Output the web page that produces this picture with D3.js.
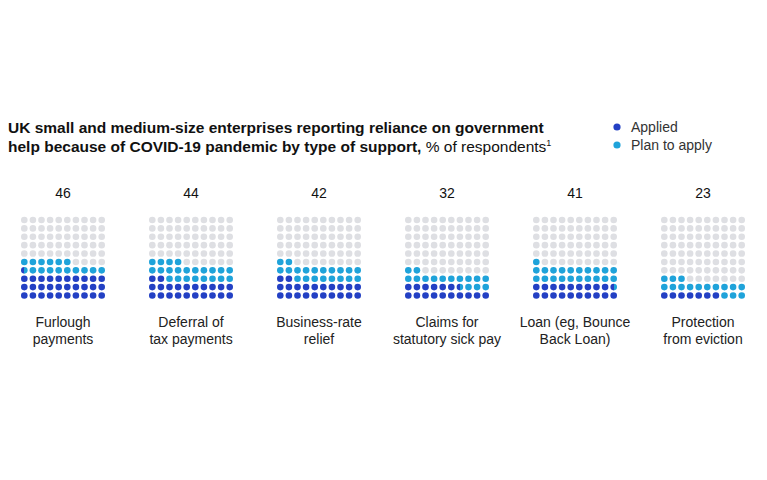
<!DOCTYPE html>
<html>
<head>
<meta charset="utf-8">
<script src="https://cdn.jsdelivr.net/npm/d3@7"></script>
<style>
  body { margin: 0; background: #fff; }
  text { font-family: "Liberation Sans", Arial, sans-serif; fill: #111; }
</style>
</head>
<body>
<svg id="chart" width="767" height="480"></svg>
<script>
// data
var categories = [
  ["Furlough", "payments"],
  ["Deferral of", "tax payments"],
  ["Business-rate", "relief"],
  ["Claims for", "statutory sick pay"],
  ["Loan (eg, Bounce", "Back Loan)"],
  ["Protection", "from eviction"]
];
var totals = [46, 44, 42, 32, 41, 23];
var applied = [30.5, 22, 22, 16.5, 19.5, 7];
var planToApply = [15.5, 22, 20, 15.5, 21.5, 16];
var seriesNames = ["Applied", "Plan to apply"];

var colors = { applied: "#2340c4", plan: "#1fa3da", empty: "#dedfe3" };

var svg = d3.select("#chart");

// title
var title = svg.append("text").attr("x", 8).attr("y", 133)
    .style("font-size", "15.5px").style("font-weight", "bold");
title.append("tspan").text("UK small and medium-size enterprises reporting reliance on government");
var t2 = svg.append("text").attr("x", 8).attr("y", 152)
    .style("font-size", "15.5px").style("font-weight", "bold");
t2.append("tspan").text("help because of COVID-19 pandemic by type of support, ");
t2.append("tspan").style("font-weight", "normal").text("% of respondents");
t2.append("tspan").style("font-weight", "normal").style("font-size", "9px").attr("dy", -6).text("1");

// legend
var legend = svg.append("g").attr("transform", "translate(617,127)");
seriesNames.forEach(function(name, i) {
  var g = legend.append("g").attr("transform", "translate(0," + (i * 18) + ")");
  g.append("circle").attr("r", 3.6).attr("fill", i == 0 ? colors.applied : colors.plan);
  g.append("text").attr("x", 14).attr("dy", "0.35em").style("font-size", "14px").style("fill", "#333").text(name);
});

// grids
var x = d3.scaleBand().domain(d3.range(categories.length)).range([-1, 767]).paddingInner(0);
var col = d3.scaleLinear().domain([0, 9]).range([-38.7, 38.7]);
var row = d3.scaleLinear().domain([0, 9]).range([295.5, 220]);
var r = 3.3;

var defs = svg.append("defs");
var grad = defs.append("linearGradient").attr("id", "half");
grad.append("stop").attr("offset", "50%").attr("stop-color", colors.applied);
grad.append("stop").attr("offset", "50%").attr("stop-color", colors.plan);

var groups = svg.selectAll(".grid").data(categories).enter().append("g")
    .attr("class", "grid")
    .attr("transform", function(d, i) { return "translate(" + (x(i) + x.bandwidth() / 2) + ",0)"; });

groups.each(function(d, k) {
  var g = d3.select(this);
  var dots = d3.range(100);
  g.selectAll("circle").data(dots).enter().append("circle")
      .attr("cx", function(i) { return col(i % 10); })
      .attr("cy", function(i) { return row(Math.floor(i / 10)); })
      .attr("r", r)
      .attr("fill", function(i) {
        var a = applied[k], t = applied[k] + planToApply[k];
        if (i + 1 <= a) return colors.applied;
        if (i < a) return "url(#half)";
        if (i + 1 <= t) return colors.plan;
        return colors.empty;
      });

  g.append("text").attr("y", 198).attr("text-anchor", "middle")
      .style("font-size", "14px").text(totals[k]);

  d.forEach(function(line, j) {
    g.append("text").attr("y", 327 + j * 17).attr("text-anchor", "middle")
        .style("font-size", "14px").style("fill", "#222").text(line);
  });
});
</script>
</body>
</html>
